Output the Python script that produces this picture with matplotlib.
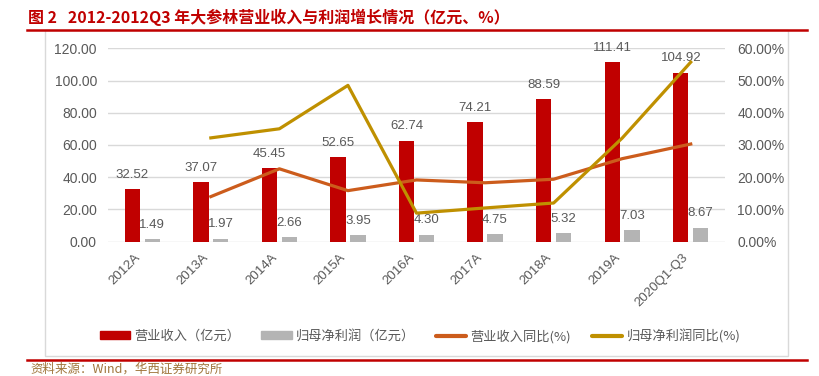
import numpy as np
import matplotlib.pyplot as plt
from matplotlib.patches import Patch, Rectangle
from matplotlib.lines import Line2D
from matplotlib.ticker import FuncFormatter

plt.rcParams['font.family'] = ['Liberation Sans', 'Noto Sans CJK SC', 'DejaVu Sans']
CJK = ['Noto Sans CJK SC', 'DejaVu Sans']

# data
years = ['2012A', '2013A', '2014A', '2015A', '2016A', '2017A', '2018A', '2019A', '2020Q1-Q3']
revenue = [32.52, 37.07, 45.45, 52.65, 62.74, 74.21, 88.59, 111.41, 104.92]
profit = [1.49, 1.97, 2.66, 3.95, 4.30, 4.75, 5.32, 7.03, 8.67]
rev_yoy = [np.nan, 13.99, 22.61, 15.84, 19.16, 18.28, 19.38, 25.76, 30.3]
prof_yoy = [np.nan, 32.21, 35.03, 48.50, 8.86, 10.47, 12.00, 32.14, 55.7]

red = '#c00000'
gray = '#b4b4b4'
orange = '#cc5c1c'
gold = '#bf9000'
txt = '#595959'

fig = plt.figure(figsize=(8.2, 3.76), dpi=100)
ax = fig.add_axes([108 / 820, 1 - 241.7 / 376, 617 / 820, 193.4 / 376])

x = np.arange(len(years))
w = 0.225
b1 = ax.bar(x - 0.145, revenue, w, color=red, zorder=2)
b2 = ax.bar(x + 0.145, profit, w, color=gray, zorder=2)

for xi, v in zip(x, revenue):
    ax.annotate(f'{v:.2f}', (xi - 0.145, v), xytext=(0, 6), textcoords='offset points',
                ha='center', va='bottom', fontsize=9.5, color=txt, zorder=5)
for xi, v in zip(x, profit):
    ax.annotate(f'{v:.2f}', (xi + 0.145, v), xytext=(0, 6), textcoords='offset points',
                ha='center', va='bottom', fontsize=9.5, color=txt, zorder=5)

ax.set_xlim(-0.5, len(years) - 0.5)
ax.set_ylim(0, 120)
ax.set_yticks(np.arange(0, 121, 20))
ax.yaxis.set_major_formatter(FuncFormatter(lambda v, p: f'{v:.2f}'))
ax.set_xticks(x)
ax.set_xticklabels(years, rotation=45, ha='right')
ax.tick_params(axis='x', length=0, pad=7, labelsize=9.5, labelcolor=txt)
ax.tick_params(axis='y', length=0, pad=8, labelsize=10, labelcolor=txt)
ax.grid(axis='y', color='#d9d9d9', linewidth=1, zorder=0)
ax.set_axisbelow(True)
for s in ax.spines.values():
    s.set_visible(False)

ax2 = ax.twinx()
ax2.plot(x, np.array(rev_yoy) / 100, color=orange, linewidth=2.3, zorder=3)
ax2.plot(x, np.array(prof_yoy) / 100, color=gold, linewidth=2.3, zorder=3)
ax2.set_ylim(0, 0.6)
ax2.set_yticks(np.arange(0, 0.61, 0.1))
ax2.yaxis.set_major_formatter(FuncFormatter(lambda v, p: f'{v * 100:.2f}%'))
ax2.tick_params(axis='y', length=0, pad=9, labelsize=10, labelcolor=txt)
for s in ax2.spines.values():
    s.set_visible(False)

# legend
handles = [Patch(color=red), Patch(color=gray),
           Line2D([], [], color=orange, linewidth=3, solid_capstyle='round'),
           Line2D([], [], color=gold, linewidth=3, solid_capstyle='round')]
labels = ['营业收入（亿元）', '归母净利润（亿元）', '营业收入同比(%)', '归母净利润同比(%)']
leg = fig.legend(handles, labels, loc='center', bbox_to_anchor=(420 / 820, 1 - 336 / 376),
                 ncol=4, frameon=False, handlelength=2.3, handleheight=0.55,
                 handletextpad=0.3, columnspacing=1.6, prop={'family': CJK, 'size': 9.5})
for t in leg.get_texts():
    t.set_color(txt)

# frame and decorations
fig.patches.append(Rectangle((45 / 820, 1 - 356 / 376), 743 / 820, 326 / 376,
                             transform=fig.transFigure, fill=False,
                             edgecolor='#d9d9d9', linewidth=1))
fig.add_artist(Line2D([27 / 820, 807 / 820], [1 - 30 / 376] * 2, color=red,
                      linewidth=1.8, transform=fig.transFigure))
fig.add_artist(Line2D([27 / 820, 807 / 820], [1 - 359.5 / 376] * 2, color=red,
                      linewidth=1.8, transform=fig.transFigure))

fig.text(28 / 820, 1 - 17 / 376, '图 2   2012-2012Q3 年大参林营业收入与利润增长情况（亿元、%）',
         family=CJK, fontsize=11.5, color=red, weight='bold', va='center', ha='left')
fig.text(30 / 820, 1 - 369.5 / 376, '资料来源：Wind，华西证券研究所',
         family=CJK, fontsize=9, color='#a0763c', va='center', ha='left')

fig.savefig('out.png', dpi=100)
